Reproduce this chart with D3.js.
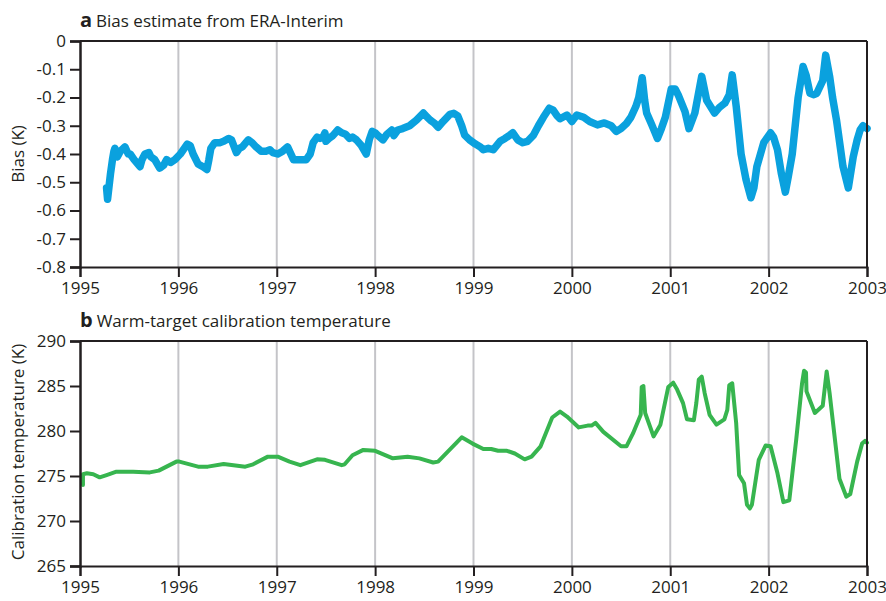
<!DOCTYPE html>
<html>
<head>
<meta charset="utf-8">
<script src="https://cdn.jsdelivr.net/npm/d3@7"></script>
<style>
  html, body { margin: 0; padding: 0; background: #fff; }
  svg { display: block; font-family: "Open Sans", "Noto Sans", sans-serif; }
</style>
</head>
<body>
<svg id="chart" width="886" height="601"></svg>
<script>
// Panel a: daily bias estimate from ERA-Interim (decimal year, K)
const biasYears = [
  1995.27,1995.28,1995.30,1995.31,1995.33,1995.345,1995.355,1995.38,1995.41,1995.44,1995.457,1995.49,1995.51,1995.55,1995.61,1995.63,1995.66,1995.70,1995.72,1995.76,1995.81,1995.85,1995.88,1995.92,1995.965,
  1996.02,1996.06,1996.09,1996.12,1996.15,1996.20,1996.25,1996.29,1996.31,1996.33,1996.37,1996.42,1996.46,1996.51,1996.54,1996.59,1996.62,1996.65,1996.71,1996.75,1996.79,1996.84,1996.89,1996.93,1996.96,
  1997.01,1997.06,1997.11,1997.17,1997.24,1997.30,1997.34,1997.37,1997.41,1997.44,1997.47,1997.49,1997.50,1997.53,1997.57,1997.62,1997.66,1997.70,1997.74,1997.77,1997.81,1997.86,1997.91,1997.94,1997.97,
  1998.00,1998.03,1998.08,1998.12,1998.17,1998.19,1998.23,1998.28,1998.35,1998.42,1998.49,1998.53,1998.56,1998.60,1998.64,1998.69,1998.76,1998.80,1998.84,1998.88,1998.91,1998.96,
  1999.02,1999.07,1999.10,1999.15,1999.20,1999.27,1999.32,1999.37,1999.40,1999.45,1999.50,1999.55,1999.61,1999.66,1999.71,1999.77,1999.81,1999.85,1999.88,1999.95,
  2000.00,2000.05,2000.12,2000.18,2000.26,2000.33,2000.40,2000.45,2000.50,2000.555,2000.60,2000.65,2000.68,2000.715,2000.74,2000.76,2000.81,2000.84,2000.87,2000.91,2000.95,
  2001.01,2001.05,2001.08,2001.15,2001.19,2001.25,2001.29,2001.32,2001.37,2001.45,2001.50,2001.555,2001.60,2001.63,2001.67,2001.72,2001.77,2001.82,2001.85,2001.88,2001.95,
  2002.02,2002.05,2002.09,2002.13,2002.17,2002.20,2002.24,2002.27,2002.30,2002.35,2002.38,2002.42,2002.46,2002.49,2002.55,2002.58,2002.62,2002.65,2002.69,2002.73,2002.756,2002.81,2002.86,2002.90,2002.93,2002.96,2003.00
];
const biasValues = [
  -0.52,-0.56,-0.50,-0.47,-0.42,-0.39,-0.38,-0.41,-0.39,-0.38,-0.375,-0.40,-0.40,-0.42,-0.445,-0.42,-0.40,-0.395,-0.41,-0.42,-0.45,-0.44,-0.42,-0.43,-0.42,
  -0.40,-0.38,-0.365,-0.37,-0.40,-0.435,-0.445,-0.455,-0.42,-0.38,-0.36,-0.36,-0.355,-0.345,-0.35,-0.395,-0.38,-0.375,-0.35,-0.36,-0.375,-0.39,-0.39,-0.385,-0.395,
  -0.40,-0.39,-0.375,-0.42,-0.42,-0.42,-0.40,-0.36,-0.34,-0.345,-0.34,-0.325,-0.355,-0.345,-0.335,-0.315,-0.325,-0.33,-0.345,-0.34,-0.35,-0.37,-0.40,-0.35,-0.32,
  -0.325,-0.335,-0.35,-0.33,-0.315,-0.335,-0.315,-0.31,-0.30,-0.28,-0.255,-0.27,-0.28,-0.29,-0.305,-0.285,-0.26,-0.256,-0.265,-0.30,-0.333,-0.35,
  -0.365,-0.375,-0.385,-0.38,-0.385,-0.355,-0.345,-0.333,-0.325,-0.35,-0.36,-0.355,-0.333,-0.30,-0.27,-0.238,-0.245,-0.265,-0.275,-0.262,
  -0.285,-0.262,-0.27,-0.285,-0.297,-0.29,-0.30,-0.32,-0.31,-0.292,-0.27,-0.232,-0.20,-0.13,-0.21,-0.255,-0.295,-0.32,-0.345,-0.31,-0.27,
  -0.17,-0.17,-0.19,-0.25,-0.31,-0.255,-0.18,-0.125,-0.21,-0.255,-0.235,-0.22,-0.19,-0.12,-0.23,-0.40,-0.49,-0.555,-0.52,-0.445,-0.36,
  -0.325,-0.34,-0.385,-0.47,-0.535,-0.48,-0.40,-0.30,-0.20,-0.09,-0.12,-0.185,-0.19,-0.185,-0.14,-0.05,-0.125,-0.20,-0.28,-0.38,-0.445,-0.52,-0.41,-0.35,-0.315,-0.30,-0.31
];

// Panel b: warm-target calibration temperature (decimal year, K)
const calYears = [
  1995.03,1995.03,1995.07,1995.135,1995.20,1995.27,1995.37,1995.54,1995.71,1995.80,1995.98,1996.01,1996.20,1996.30,1996.46,1996.68,1996.76,1996.91,1997.01,1997.13,1997.24,1997.41,1997.49,1997.66,1997.69,1997.77,1997.88,
  1998.00,1998.18,1998.33,1998.45,1998.59,1998.64,1998.88,1998.99,1999.10,1999.18,1999.25,1999.34,1999.42,1999.52,1999.59,1999.68,1999.80,1999.88,1999.95,
  2000.07,2000.16,2000.20,2000.24,2000.32,2000.50,2000.555,2000.62,2000.70,2000.71,2000.727,2000.745,2000.83,2000.90,2000.98,
  2001.03,2001.07,2001.13,2001.17,2001.24,2001.265,2001.29,2001.32,2001.35,2001.40,2001.47,2001.55,2001.58,2001.60,2001.63,2001.67,2001.70,2001.75,2001.78,2001.81,2001.83,2001.90,2001.97,
  2002.02,2002.09,2002.15,2002.21,2002.28,2002.34,2002.36,2002.38,2002.385,2002.47,2002.55,2002.59,2002.62,2002.72,2002.79,2002.83,2002.90,2002.95,2002.98,2003.00
];
const calValues = [
  274.0,275.2,275.3,275.2,274.85,275.1,275.48,275.48,275.4,275.6,276.6,276.6,276.04,276.04,276.33,276.04,276.3,277.15,277.15,276.6,276.2,276.85,276.8,276.2,276.3,277.3,277.9,
  277.8,276.96,277.15,276.96,276.5,276.6,279.3,278.6,278.0,278.0,277.8,277.8,277.5,276.85,277.15,278.26,281.5,282.15,281.6,
  280.4,280.6,280.6,280.9,279.9,278.3,278.3,279.7,281.8,284.9,285.0,282.0,279.4,280.7,284.9,
  285.37,284.6,283.1,281.3,281.2,283.1,285.7,286.04,284.2,281.8,280.7,281.3,282.35,285.1,285.3,280.9,275.1,274.2,271.8,271.4,271.8,276.8,278.4,
  278.3,275.3,272.1,272.3,279.0,285.3,286.7,286.5,284.4,282.0,282.8,286.6,284.2,274.7,272.7,273.0,276.6,278.6,278.9,278.7
];

// Axis tick values
const yearTicks = [1995, 1996, 1997, 1998, 1999, 2000, 2001, 2002, 2003];
const biasTicks = [0, -0.1, -0.2, -0.3, -0.4, -0.5, -0.6, -0.7, -0.8];
const calTicks = [290, 285, 280, 275, 270, 265];

const ink = "#231f20";
const fontSize = 17;
const svg = d3.select("#chart");

const left = 80, right = 867;
const x = d3.scaleLinear().domain([1995, 2003]).range([left, right]);

function panel(opts) {
  const { top, bottom, yDomain, ticks, tickFmt, xs, ys, color, width, letter, title, ylabel, ylabelY } = opts;
  const y = d3.scaleLinear().domain(yDomain).range([bottom, top]);
  const g = svg.append("g");

  // vertical year grid lines
  g.selectAll("line.grid")
    .data(yearTicks.slice(1, -1))
    .join("line")
    .attr("x1", d => x(d)).attr("x2", d => x(d))
    .attr("y1", top).attr("y2", bottom)
    .attr("stroke", "#c4c4c8").attr("stroke-width", 2);

  // data line
  const pts = xs.map((d, i) => [d, ys[i]]);
  g.append("path")
    .datum(pts)
    .attr("fill", "none")
    .attr("stroke", color)
    .attr("stroke-width", width)
    .attr("stroke-linejoin", "round")
    .attr("stroke-linecap", "round")
    .attr("d", d3.line().x(d => x(d[0])).y(d => y(d[1])));

  // frame: top and right
  g.append("line").attr("x1", left).attr("x2", right).attr("y1", top).attr("y2", top)
    .attr("stroke", ink).attr("stroke-width", 2);
  g.append("line").attr("x1", right).attr("x2", right).attr("y1", top).attr("y2", bottom)
    .attr("stroke", ink).attr("stroke-width", 2);

  // left axis
  const ya = g.append("g").attr("transform", `translate(${left},0)`)
    .call(d3.axisLeft(y).tickValues(ticks).tickFormat(tickFmt).tickSize(10).tickPadding(4));
  ya.select(".domain").attr("stroke", ink).attr("stroke-width", 2.5);
  ya.selectAll(".tick line").attr("stroke", ink).attr("stroke-width", 2);
  ya.selectAll("text").attr("fill", ink).attr("font-size", fontSize).attr("font-family", "Open Sans, sans-serif");

  // bottom axis
  const xa = g.append("g").attr("transform", `translate(0,${bottom})`)
    .call(d3.axisBottom(x).tickValues(yearTicks).tickFormat(d3.format("d")).tickSize(10).tickPadding(5));
  xa.select(".domain").attr("stroke", ink).attr("stroke-width", 2);
  xa.selectAll(".tick line").attr("stroke", ink).attr("stroke-width", 2);
  xa.selectAll("text").attr("fill", ink).attr("font-size", fontSize).attr("font-family", "Open Sans, sans-serif");

  // title
  const t = g.append("text").attr("x", left).attr("y", top - 14).attr("fill", ink).attr("font-size", fontSize);
  t.append("tspan").attr("font-weight", "bold").attr("font-size", 20).text(letter);
  t.append("tspan").attr("dx", 4).text(title);

  // y label
  g.append("text")
    .attr("transform", `translate(24,${ylabelY}) rotate(-90)`)
    .attr("text-anchor", "middle")
    .attr("fill", ink).attr("font-size", fontSize)
    .text(ylabel);
}

panel({
  top: 41, bottom: 267, yDomain: [-0.8, 0], ticks: biasTicks,
  tickFmt: d => d === 0 ? "0" : d3.format(".1f")(d).replace("−", "-"),
  xs: biasYears, ys: biasValues, color: "#0aa1de", width: 7.5,
  letter: "a", title: "Bias estimate from ERA-Interim",
  ylabel: "Bias (K)", ylabelY: 154
});

panel({
  top: 341, bottom: 566, yDomain: [265, 290], ticks: calTicks,
  tickFmt: d3.format("d"),
  xs: calYears, ys: calValues, color: "#37b54f", width: 4,
  letter: "b", title: "Warm-target calibration temperature",
  ylabel: "Calibration temperature (K)", ylabelY: 452
});
</script>
</body>
</html>
